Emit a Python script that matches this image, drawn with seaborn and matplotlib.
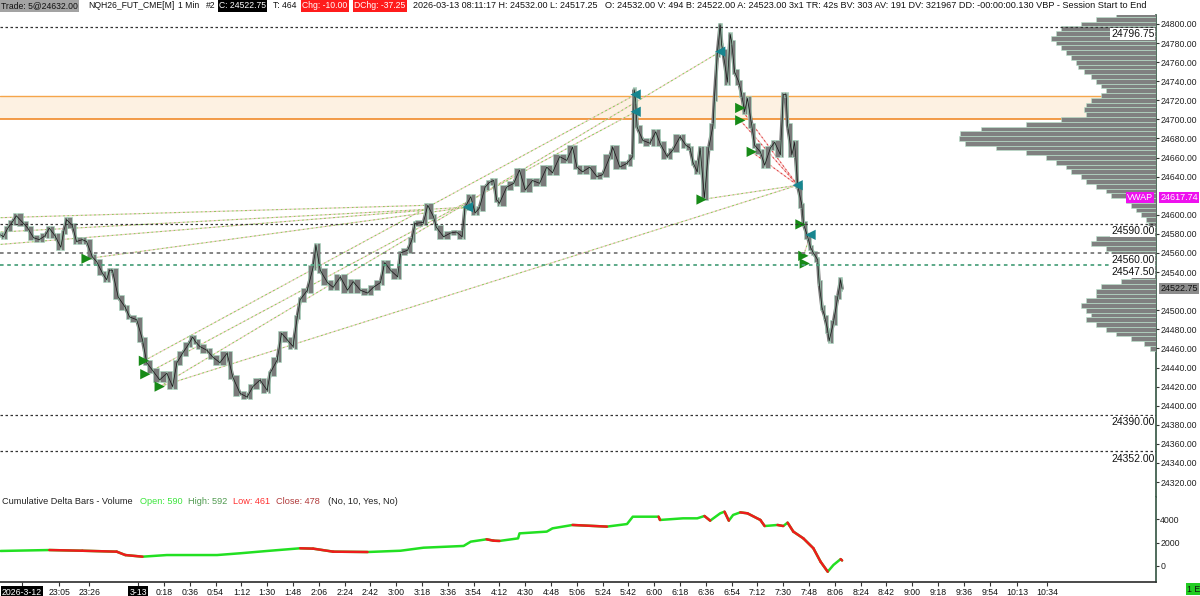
import numpy as np
import pandas as pd
import matplotlib
matplotlib.use("Agg")
import matplotlib.pyplot as plt
import seaborn as sns

# price samples (minutes from 0:00 on 3-13, negative = 3-12 evening) and closes
bar_minutes = [-96, -94, -91, -88, -85, -80, -77, -73, -69, -65, -62, -58, -54, -52, -50,
               -46, -43, -39, -36, -32, -29, -25, -22, -20, -18, -14, -9, -6, -1, 3,
               6, 10, 15, 20, 24, 27, 31, 35, 38, 40, 43, 48, 52, 57, 62,
               66, 71, 76, 80, 85, 90, 92, 97, 100, 104, 108, 111, 113, 118, 122,
               124, 127, 132, 136, 141, 146, 150, 155, 160, 164, 169, 172, 176, 181, 183,
               188, 191, 193, 199, 202, 206, 208, 213, 218, 222, 226, 228, 232, 235, 238,
               242, 245, 248, 250, 252, 257, 262, 266, 270, 275, 280, 285, 289, 294, 299,
               303, 306, 310, 315, 320, 324, 329, 331, 336, 341, 345, 346, 347, 348, 352,
               357, 361, 364, 369, 373, 378, 382, 385, 387, 390, 392, 395, 398, 401, 402,
               404, 406, 407, 408, 411, 413, 414, 416, 419, 421, 423, 425, 428, 430, 434,
               437, 441, 444, 448, 450, 452, 453, 456, 458, 460, 463, 464, 467, 469, 471,
               474, 475, 477, 479, 481, 482, 485, 488, 490, 491]
bar_close = [24579, 24577, 24586, 24592, 24599, 24591, 24586, 24576, 24574, 24578, 24586, 24578, 24566, 24582, 24595,
             24589, 24572, 24574, 24572, 24556, 24551, 24539, 24532, 24542, 24542, 24514, 24503, 24493, 24490, 24469,
             24445, 24437, 24427, 24434, 24420, 24445, 24455, 24464, 24472, 24467, 24462, 24458, 24451, 24445, 24455,
             24430, 24413, 24409, 24420, 24427, 24416, 24434, 24448, 24476, 24469, 24462, 24493, 24511, 24521, 24545,
             24568, 24542, 24529, 24524, 24535, 24521, 24530, 24521, 24518, 24524, 24529, 24550, 24542, 24535, 24560,
             24563, 24574, 24591, 24592, 24610, 24598, 24587, 24577, 24581, 24582, 24577, 24608, 24619, 24602, 24607,
             24629, 24634, 24636, 24616, 24612, 24629, 24633, 24647, 24626, 24636, 24633, 24650, 24644, 24661, 24657,
             24671, 24650, 24645, 24650, 24640, 24642, 24661, 24671, 24650, 24654, 24661, 24731, 24720, 24692, 24678,
             24675, 24687, 24675, 24661, 24668, 24682, 24673, 24670, 24655, 24645, 24670, 24618, 24670, 24694, 24722,
             24768, 24799, 24778, 24771, 24739, 24789, 24781, 24750, 24739, 24726, 24708, 24722, 24694, 24673, 24666,
             24652, 24670, 24676, 24663, 24726, 24726, 24694, 24663, 24676, 24631, 24610, 24591, 24577, 24566, 24560,
             24553, 24529, 24503, 24493, 24479, 24468, 24487, 24514, 24532, 24522.75]

# cumulative delta samples
delta_minutes = [-96, -62, -39, -15, -9, 3, 20, 43, 55, 71, 90, 113, 122, 136, 160,
                 183, 199, 227, 232, 243, 248, 252, 265, 266, 285, 289, 303, 327, 341, 345,
                 363, 364, 380, 390, 395, 399, 406, 409, 412, 415, 420, 425, 434, 437, 446,
                 450, 453, 457, 464, 471, 476, 481, 485, 490, 491]
delta_values = [1290, 1370, 1310, 1230, 940, 800, 940, 940, 940, 1090, 1290, 1520, 1490, 1230, 1200,
                1310, 1570, 1720, 2090, 2290, 2170, 2150, 2370, 2800, 2950, 3230, 3520, 3380, 3600, 4230,
                4230, 3950, 4090, 4090, 4290, 3890, 4520, 4660, 3890, 4380, 4600, 4520, 3950, 3430, 3520,
                3430, 3720, 2950, 2370, 1520, 370, -490, 90, 590, 478]

# volume by price (session)
profile_price = [24810, 24805, 24800, 24795, 24790, 24785, 24780, 24775, 24770, 24765, 24760, 24755,
                 24750, 24745, 24740, 24735, 24730, 24725, 24720, 24715, 24710, 24705, 24700, 24695,
                 24690, 24685, 24680, 24675, 24670, 24665, 24660, 24655, 24650, 24645, 24640, 24635,
                 24630, 24625, 24620, 24615, 24610, 24605, 24600, 24595, 24590, 24585, 24580, 24575,
                 24570, 24565, 24560, 24555, 24550, 24545, 24540, 24535, 24530, 24525, 24520, 24515,
                 24510, 24505, 24500, 24495, 24490, 24485, 24480, 24475, 24470, 24465, 24460]
profile_volume = [40, 60, 75, 95, 100, 105, 100, 95, 90, 85, 80, 78,
                  72, 65, 60, 55, 50, 55, 65, 70, 72, 70, 95, 130,
                  175, 195, 196, 190, 160, 130, 110, 100, 90, 85, 75, 70,
                  60, 50, 45, 30, 25, 20, 15, 10, 8, 25, 45, 60,
                  65, 50, 45, 35, 30, 20, 15, 25, 35, 55, 60, 60,
                  70, 75, 70, 65, 70, 60, 50, 40, 25, 12, 6]

# horizontal levels
levels = [24796.75, 24590.00, 24560.00, 24547.50, 24390.00, 24352.00]
level_colors = ["#333333", "#333333", "#7a7a7a", "#4fa37f", "#333333", "#333333"]
zone_low, zone_high = 24700.00, 24724.00
vwap_value = 24617.74

# trades: entry -> exit
trade_entry_min = [-96, -96, -96, -36, 4, 5, 15, 15, 393, 420, 420, 428, 464]
trade_entry_px = [24597, 24582, 24569, 24554, 24447, 24433, 24420, 24420, 24616, 24712, 24699, 24666, 24557]
trade_exit_min = [202, 230, 202, 230, 347, 347, 406, 460, 460, 460, 460, 460, 469]
trade_exit_px = [24610, 24608, 24605, 24608, 24726, 24708, 24771, 24631, 24631, 24631, 24631, 24631, 24579]
trade_loss = [False, False, False, False, False, False, False, False, False, True, True, True, False]
entry_min = [-36, 4, 5, 15, 393, 420, 420, 428, 462, 464, 465]
entry_px = [24554, 24447, 24433, 24420, 24616, 24712, 24699, 24666, 24590, 24557, 24549]
exit_min = [230, 347, 347, 406, 460, 469]
exit_px = [24608, 24726, 24708, 24771, 24631, 24579]

price_ticks = [24320, 24340, 24360, 24380, 24400, 24420, 24440, 24460, 24480, 24500, 24540,
               24560, 24580, 24600, 24640, 24660, 24680, 24700, 24720, 24740, 24760, 24780, 24800]
tick_times = ["22:39", "23:05", "23:26", "0:00", "0:18", "0:36", "0:54", "1:12", "1:30", "1:48",
              "2:06", "2:24", "2:42", "3:00", "3:18", "3:36", "3:54", "4:12", "4:30", "4:48",
              "5:06", "5:24", "5:42", "6:00", "6:18", "6:36", "6:54", "7:12", "7:30", "7:48",
              "8:06", "8:24", "8:42", "9:00", "9:18", "9:36", "9:54", "10:13", "10:34"]
tick_labels = ["2026-3-12", "23:05", "23:26", "3-13"] + tick_times[4:]

sns.set_theme(style="white")
plt.rcParams["font.family"] = ["Liberation Sans", "DejaVu Sans"]

W, H = 1200, 596
fig = plt.figure(figsize=(12, 5.96), dpi=100)


def fx(px):
    return px / W


def fy(py):
    return 1 - py / H


ax = fig.add_axes([0, fy(497), fx(1156), fy(15) - fy(497)])
axd = fig.add_axes([0, fy(582), fx(1156), fy(497) - fy(582)], sharex=ax)

# zone
ax.axhspan(zone_low, zone_high, color="#fdf1e2", lw=0, zorder=0)
ax.axhline(zone_high, color="#f5a54a", lw=1, zorder=1)
ax.axhline(zone_low, color="#f08a2a", lw=1.2, zorder=1)

# trade lines
for m0, p0, m1, p1, loss in zip(trade_entry_min, trade_entry_px, trade_exit_min, trade_exit_px, trade_loss):
    if loss:
        ax.plot([m0, m1], [p0, p1], color="#e04545", lw=0.8, ls=(0, (2, 2)), zorder=2)
        ax.plot([m0, m1], [p0, p1], color="#f6b8b8", lw=0.8, ls=(2, (2, 2)), zorder=2)
    else:
        ax.plot([m0, m1], [p0, p1], color="#92c860", lw=0.8, ls=(0, (2, 2)), zorder=2)
        ax.plot([m0, m1], [p0, p1], color="#f6c4c4", lw=0.8, ls=(2, (2, 2)), zorder=2)

# price path: gray bodies between successive sampled closes, dark wick line on top
bars = pd.DataFrame({"minute": bar_minutes, "close": bar_close})
bars["open"] = bars["close"].shift(1).fillna(bars["close"])
bars["left"] = bars["minute"].shift(1).fillna(bars["minute"] - 1)
lo = bars[["open", "close"]].min(axis=1) - 2.5
hi = bars[["open", "close"]].max(axis=1) + 2.5
sns.lineplot(data=bars, x="minute", y="close", estimator=None, color="#7a7a7a", lw=2.6, ax=ax, zorder=3)
ax.bar(bars["left"] + 0.4, hi - lo, bottom=lo, width=(bars["minute"] - bars["left"]) * 0.8,
       align="edge", color="#7a7a7a", edgecolor="#a6dcc0", linewidth=0.4, zorder=3)
sns.lineplot(data=bars, x="minute", y="close", estimator=None, color="#1a1a1a", lw=0.55, ax=ax, zorder=4)

# trade markers
sns.scatterplot(x=entry_min, y=entry_px, marker=">", s=55, color="#178a17", edgecolor="none", ax=ax, zorder=6)
sns.scatterplot(x=exit_min, y=exit_px, marker="<", s=55, color="#17858f", edgecolor="none", ax=ax, zorder=6)

ax.set_xlim(-96.4, 710)
ax.set_ylim(24304.3, 24809.4)

# volume profile on a twin axis, growing leftwards from the right edge
axp = ax.twiny()
axp.barh(profile_price, profile_volume, height=5, color="#808080", edgecolor="#b8e6cc", linewidth=0.4, zorder=3)
axp.set_xlim(max(profile_volume) / 0.17, 0)
axp.set_ylim(24304.3, 24809.4)
axp.set_xticks([])
for s in axp.spines.values():
    s.set_visible(False)

for lvl, col in zip(levels, level_colors):
    lw = 1.3 if col != "#333333" else 0.9
    axp.axhline(lvl, color=col, lw=lw, ls=(0, (2, 2)), zorder=5)
    axp.annotate(f"{lvl:.2f}", xy=(1, lvl), xycoords=("axes fraction", "data"), xytext=(-1, -1.5),
                 textcoords="offset points", ha="right", va="top", fontsize=7.5, color="#111111",
                 bbox=dict(fc="white", ec="none", pad=0.6), zorder=7)

# vwap label
axp.annotate("VWAP", xy=(1, vwap_value), xycoords=("axes fraction", "data"), xytext=(-2, 0),
             textcoords="offset points", ha="right", va="center", fontsize=6.5, color="white",
             bbox=dict(fc="#ee11ee", ec="none", pad=0.8), zorder=8)

# right axis
ax.yaxis.tick_right()
ax.set_yticks(price_ticks)
ax.yaxis.set_major_formatter(matplotlib.ticker.FormatStrFormatter("%.2f"))
ax.tick_params(axis="y", right=True, length=2, width=0.8, color="#333333", labelsize=6.3, pad=1,
               labelcolor="#222222")
ax.tick_params(axis="x", bottom=False, labelbottom=False)
ax.set_xlabel("")
ax.set_ylabel("")
for k, s in ax.spines.items():
    s.set_visible(k == "right")
ax.spines["right"].set_color("#3a5a48")

ax.annotate(f"{vwap_value:.2f}", xy=(1, vwap_value), xycoords=("axes fraction", "data"), xytext=(3, 0),
            textcoords="offset points", ha="left", va="center", fontsize=6.5, color="white",
            bbox=dict(fc="#ee11ee", ec="none", pad=0.8), zorder=8, annotation_clip=False)
ax.annotate(f"{bar_close[-1]:.2f}", xy=(1, bar_close[-1]), xycoords=("axes fraction", "data"), xytext=(3, 0),
            textcoords="offset points", ha="left", va="center", fontsize=6.5, color="#111111",
            bbox=dict(fc="#8c8c8c", ec="none", pad=0.8), zorder=8, annotation_clip=False)

# cumulative delta
delta = pd.DataFrame({"minute": delta_minutes, "delta": delta_values})
sns.lineplot(data=delta, x="minute", y="delta", estimator=None, color="#22e022", lw=1.8, ax=axd)
for i in range(1, len(delta)):
    if delta_values[i] < delta_values[i - 1]:
        axd.plot(delta_minutes[i - 1:i + 1], delta_values[i - 1:i + 1], color="#ee1c1c", lw=1.8, zorder=3)
axd.set_ylim(-1373, 5920)
axd.yaxis.tick_right()
axd.set_yticks([0, 2000, 4000])
axd.tick_params(axis="y", right=True, length=2, width=0.8, color="#333333", labelsize=6.3, pad=1,
                labelcolor="#222222")
axd.set_ylabel("")
axd.set_xlabel("")
for k, s in axd.spines.items():
    s.set_visible(k in ("right", "bottom"))
axd.spines["right"].set_color("#3a5a48")
axd.spines["bottom"].set_color("#333333")


def to_min(t):
    h, m = map(int, t.split(":"))
    return h * 60 + m - (1440 if h >= 12 else 0)


axd.set_xticks([to_min(t) for t in tick_times])
axd.set_xticklabels(tick_labels)
axd.tick_params(axis="x", bottom=True, length=3, width=0.8, color="#333333", labelsize=6.3, pad=1,
                labelcolor="#111111")
for lab in axd.get_xticklabels():
    if "-" in lab.get_text():
        lab.set_color("white")
        lab.set_bbox(dict(fc="black", ec="none", pad=0.8))
axd.set_xlim(-96.4, 710)

# delta panel caption
caption = [(2, "Cumulative Delta Bars - Volume", "#222222"), (140, "Open: 590", "#3ce63c"),
           (188, "High: 592", "#4f9a4f"), (233, "Low: 461", "#ff3030"), (276, "Close: 478", "#b03a3a"),
           (328, "(No, 10, Yes, No)", "#222222")]
for x, txt, col in caption:
    fig.text(fx(x), fy(502), txt, color=col, fontsize=6.6, ha="left", va="center")

# header line
header = [(0, "Trade: 5@24632.00", "#111111", "#a3a3a3", 6.2), (87, "NQH26_FUT_CME[M]", "#111111", None, 6.2),
          (177, "1 Min", "#111111", None, 6.2), (205, "#2", "#111111", None, 6.2),
          (218, "C: 24522.75", "white", "black", 6.2), (272, "T: 464", "#111111", None, 6.2),
          (301, "Chg: -10.00", "white", "#ff1c1c", 6.2), (353, "DChg: -37.25", "white", "#ff1c1c", 6.2),
          (412, "2026-03-13 08:11:17 H: 24532.00 L: 24517.25", "#111111", None, 6.5),
          (604, "O: 24532.00 V: 494 B: 24522.00 A: 24523.00 3x1 TR: 42s BV: 303 AV: 191 DV: 321967 "
                "DD: -00:00:00.130 VBP - Session Start to End", "#111111", None, 6.6)]
for x, txt, col, bg, fs in header:
    kw = {}
    if bg:
        kw["bbox"] = dict(fc=bg, ec="none", pad=0.9)
    fig.text(fx(x + 1), fy(6), txt, color=col, fontsize=fs, ha="left", va="center", **kw)

fig.text(fx(1187), fy(589), "1 E", color="#111111", fontsize=6.3, ha="left", va="center",
         bbox=dict(fc="#22cc22", ec="none", pad=0.9))

fig.savefig("out.png", dpi=100)
